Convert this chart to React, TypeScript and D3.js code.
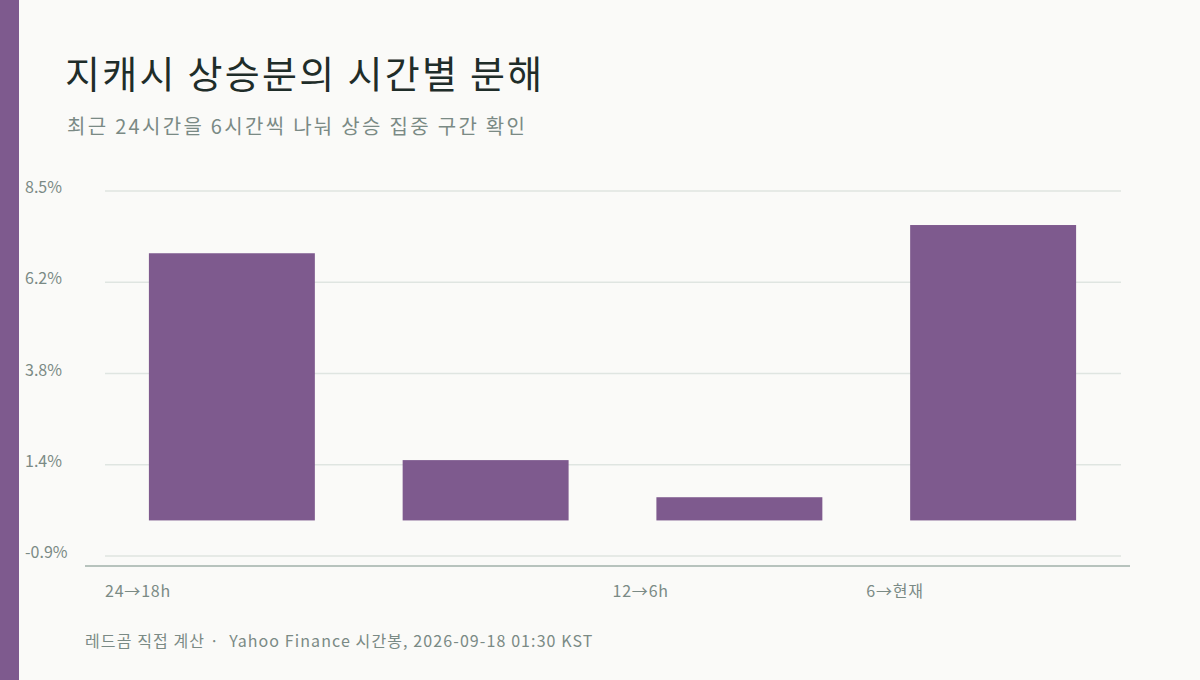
import { useEffect } from "react";
import * as d3 from "d3";

const W = 1200;
const H = 680;

const CATEGORIES = ["24→18h", "18→12h", "12→6h", "6→현재"];
const GAINS = [6.91, 1.56, 0.6, 7.64];
// the second label is not drawn in the original
const X_LABELS = ["24→18h", "", "12→6h", "6→현재"];
const Y_TICKS = [-0.92, 1.44, 3.8, 6.16, 8.52];

const TITLE = "지캐시 상승분의 시간별 분해";
const SUBTITLE = "최근 24시간을 6시간씩 나눠 상승 집중 구간 확인";
const SOURCE = "레드곰 직접 계산 ·  Yahoo Finance 시간봉, 2026-09-18 01:30 KST";

const FONT = "'Noto Sans CJK KR', 'Noto Sans', sans-serif";
const BAR = "#7e5a8e";
const BG = "#fafaf8";
const GRID = "#dfe5e1";
const AXIS = "#b7c3bd";
const MUTED = "#7a8a85";

export default function App() {
  useEffect(() => {
    document.body.style.margin = "0";
  }, []);

  const x = d3
    .scaleBand<string>()
    .domain(CATEGORIES)
    .range([105, 1120])
    .paddingInner(0.346)
    .paddingOuter(0.173);

  const y = d3.scaleLinear().domain([-0.92, 8.52]).range([556, 191]);
  const fmt = (v: number) => d3.format(".1f")(v).replace("−", "-");
  const step = x.step();
  const start = x.range()[0];

  return (
    <svg width={W} height={H} style={{ display: "block", background: BG }} fontFamily={FONT}>
      <rect x={0} y={0} width={W} height={H} fill={BG} />
      <rect x={0} y={0} width={19} height={H} fill={BAR} />

      <text x={65} y={88} fontSize={38} fill="#1f2d29" letterSpacing={2.3}>
        {TITLE}
      </text>
      <text x={67} y={134} fontSize={20} fill={MUTED} letterSpacing={2.3}>
        {SUBTITLE}
      </text>

      {/* grid + y labels */}
      {Y_TICKS.map(t => (
        <g key={t}>
          <line x1={105} x2={1121} y1={y(t)} y2={y(t)} stroke={GRID} strokeWidth={1.6} />
          <text x={25} y={y(t) + 2} fontSize={16} fill={MUTED}>
            {fmt(t)}%
          </text>
        </g>
      ))}

      {/* bars */}
      {CATEGORIES.map((c, i) => {
        const v = GAINS[i];
        return (
          <rect
            key={c}
            x={x(c)}
            width={x.bandwidth()}
            y={y(Math.max(0, v))}
            height={Math.abs(y(v) - y(0))}
            fill={BAR}
          />
        );
      })}

      {/* x axis */}
      <line x1={85} x2={1130} y1={566} y2={566} stroke={AXIS} strokeWidth={2} />
      {X_LABELS.map((l, i) =>
        l ? (
          <text key={i} x={start + i * step} y={597} fontSize={16} fill={MUTED} letterSpacing={0.8}>
            {l}
          </text>
        ) : null
      )}

      <text x={85} y={647} fontSize={16} fill={MUTED} letterSpacing={1.1} style={{ whiteSpace: "pre" }}>
        {SOURCE}
      </text>
    </svg>
  );
}
